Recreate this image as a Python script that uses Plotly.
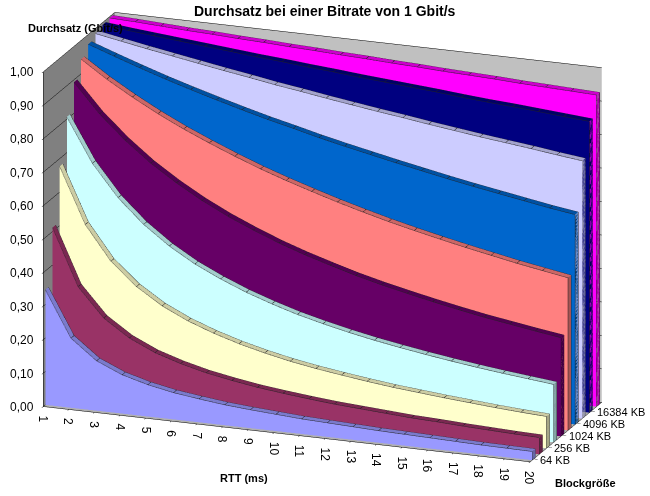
import plotly.graph_objects as go

# RTT in ms (x axis)
rtt = list(range(1, 21))

# block sizes (depth axis), front to back
block_sizes = ["64 KB", "128 KB", "256 KB", "512 KB", "1024 KB",
               "2048 KB", "4096 KB", "8192 KB", "16384 KB", "32768 KB"]

# throughput in Gbit/s
tp_64 = [0.344, 0.208, 0.149, 0.116, 0.095, 0.080, 0.070, 0.061, 0.055, 0.050,
         0.045, 0.042, 0.039, 0.036, 0.034, 0.032, 0.030, 0.028, 0.027, 0.026]
tp_128 = [0.512, 0.344, 0.259, 0.208, 0.173, 0.149, 0.130, 0.116, 0.104, 0.095,
          0.087, 0.080, 0.075, 0.070, 0.065, 0.062, 0.058, 0.055, 0.052, 0.050]
tp_256 = [0.677, 0.512, 0.411, 0.344, 0.295, 0.259, 0.231, 0.208, 0.189, 0.173,
          0.160, 0.149, 0.139, 0.130, 0.123, 0.116, 0.110, 0.104, 0.099, 0.095]
tp_512 = [0.807, 0.677, 0.583, 0.512, 0.456, 0.411, 0.375, 0.344, 0.318, 0.295,
          0.276, 0.259, 0.244, 0.231, 0.219, 0.208, 0.198, 0.189, 0.181, 0.173]
tp_1024 = [0.893, 0.807, 0.737, 0.677, 0.627, 0.583, 0.545, 0.512, 0.482, 0.456,
           0.433, 0.411, 0.392, 0.375, 0.359, 0.344, 0.330, 0.318, 0.306, 0.295]
tp_2048 = [0.944, 0.893, 0.848, 0.807, 0.770, 0.737, 0.706, 0.677, 0.651, 0.627,
           0.604, 0.583, 0.563, 0.545, 0.528, 0.512, 0.497, 0.482, 0.469, 0.456]
tp_4096 = [0.971, 0.944, 0.918, 0.893, 0.870, 0.848, 0.827, 0.807, 0.789, 0.770,
           0.753, 0.737, 0.721, 0.706, 0.691, 0.677, 0.664, 0.651, 0.638, 0.627]
tp_8192 = [0.985, 0.971, 0.957, 0.944, 0.931, 0.918, 0.906, 0.893, 0.882, 0.870,
           0.859, 0.848, 0.838, 0.827, 0.817, 0.807, 0.798, 0.789, 0.779, 0.770]
tp_16384 = [0.993, 0.985, 0.978, 0.971, 0.964, 0.957, 0.950, 0.944, 0.937, 0.931,
            0.924, 0.918, 0.912, 0.906, 0.899, 0.893, 0.888, 0.882, 0.876, 0.870]
tp_32768 = [0.996, 0.993, 0.989, 0.985, 0.982, 0.978, 0.975, 0.971, 0.968, 0.964,
            0.961, 0.957, 0.954, 0.950, 0.947, 0.944, 0.940, 0.937, 0.934, 0.931]

series = [tp_64, tp_128, tp_256, tp_512, tp_1024,
          tp_2048, tp_4096, tp_8192, tp_16384, tp_32768]

colors = ["#9999FF", "#993366", "#FFFFCC", "#CCFFFF", "#660066",
          "#FF8080", "#0066CC", "#CCCCFF", "#000080", "#FF00FF"]

z_ticks = [i / 10 for i in range(11)]
z_labels = [("%.2f" % t).replace(".", ",") for t in z_ticks]


def shade(hex_color, f):
    r, g, b = (int(hex_color[k:k + 2], 16) for k in (1, 3, 5))
    return "rgb(%d,%d,%d)" % (r * f, g * f, b * f)


flat = dict(ambient=1, diffuse=0, specular=0, roughness=1, fresnel=0)
half = 0.22  # half depth of each slab
y_front = -0.5

fig = go.Figure()
n = len(rtt)
for i, (vals, col) in enumerate(zip(series, colors)):
    y0, y1 = i - half, i + half
    # front face
    fig.add_trace(go.Surface(
        x=[rtt, rtt], y=[[y0] * n, [y0] * n], z=[[0] * n, vals],
        surfacecolor=[[0] * n, [0] * n], colorscale=[[0, col], [1, col]],
        cmin=0, cmax=1, showscale=False, lighting=flat, hoverinfo="skip"))
    # top strip
    fig.add_trace(go.Surface(
        x=[rtt, rtt], y=[[y0] * n, [y1] * n], z=[vals, vals],
        surfacecolor=[[0] * n, [0] * n],
        colorscale=[[0, shade(col, 0.8)], [1, shade(col, 0.8)]],
        cmin=0, cmax=1, showscale=False, lighting=flat, hoverinfo="skip",
        contours=dict(x=dict(show=True, start=1, end=20, size=1,
                             color="#202020", width=1))))
    # end cap at the last RTT
    fig.add_trace(go.Surface(
        x=[[rtt[-1], rtt[-1]], [rtt[-1], rtt[-1]]],
        y=[[y0, y1], [y0, y1]], z=[[0, 0], [vals[-1], vals[-1]]],
        surfacecolor=[[0, 0], [0, 0]],
        colorscale=[[0, shade(col, 0.65)], [1, shade(col, 0.65)]],
        cmin=0, cmax=1, showscale=False, lighting=flat, hoverinfo="skip"))
    # outlines
    ex = rtt + [rtt[-1], None] + rtt + [rtt[-1]]
    ey = [y0] * n + [y0, None] + [y1] * n + [y1]
    ez = vals + [0, None] + vals + [0]
    fig.add_trace(go.Scatter3d(x=ex, y=ey, z=ez, mode="lines",
                               line=dict(color="#202020", width=1),
                               hoverinfo="skip", showlegend=False))

tick_font = dict(family="Liberation Sans, Arial", size=12, color="black")
depth_font = dict(family="Liberation Sans, Arial", size=11, color="black")
common = dict(showspikes=False, zeroline=False, showline=True,
              linecolor="black", ticks="outside", tickcolor="black",
              ticklen=4, showticklabels=False, title=dict(text=""))

# tick labels as scene annotations so they stay upright
scene_notes = []
for t, lab in zip(z_ticks, z_labels):
    scene_notes.append(dict(x=rtt[0], y=y_front, z=t, text=lab,
                            showarrow=False, xanchor="right", xshift=-7,
                            font=tick_font))
for r in rtt:
    scene_notes.append(dict(x=r, y=y_front, z=0, text=str(r),
                            showarrow=False, textangle=90, yanchor="top",
                            yshift=-6, font=tick_font))
for k in range(0, len(block_sizes), 2):
    scene_notes.append(dict(x=rtt[-1], y=k, z=0, text=block_sizes[k],
                            showarrow=False, xanchor="left", xshift=5,
                            font=depth_font))


def label(text, px, py, size=11):
    return dict(text="<b>%s</b>" % text, x=px / 650, y=1 - py / 496,
                xref="paper", yref="paper", xanchor="center",
                yanchor="middle", showarrow=False, font=dict(size=size))


fig.update_layout(
    width=650, height=496,
    margin=dict(l=0, r=0, t=0, b=0),
    paper_bgcolor="white",
    showlegend=False,
    font=dict(family="Liberation Sans, Arial", size=11, color="black"),
    scene=dict(
        domain=dict(x=[0.0305, 0.9605], y=[0.047, 0.977]),
        aspectmode="manual",
        aspectratio=dict(x=2.252, y=0.895, z=1.526),
        camera=dict(eye=dict(x=0.62, y=-1.678, z=0.558),
                    center=dict(x=0, y=0, z=-0.02),
                    up=dict(x=0, y=0, z=1),
                    projection=dict(type="orthographic")),
        xaxis=dict(common, range=[1, 20], tickvals=rtt,
                   showgrid=False, showbackground=True,
                   backgroundcolor="#808080"),
        yaxis=dict(common, range=[y_front, 9.5], tickvals=[0, 2, 4, 6, 8],
                   showgrid=False, showbackground=True,
                   backgroundcolor="#C0C0C0"),
        zaxis=dict(common, range=[0, 1], tickvals=z_ticks,
                   showgrid=True, gridcolor="black",
                   gridwidth=1, showbackground=True,
                   backgroundcolor="#B0B0B0"),
        annotations=scene_notes,
    ),
    annotations=[
        label("Durchsatz bei einer Bitrate von 1 Gbit/s", 325, 11, 14),
        label("Durchsatz (Gbit/s)", 75, 28),
        label("RTT (ms)", 244, 478),
        label("Blockgröße", 585, 483),
    ],
)

# drop the page's default body margin so the figure sits at the window corner
fig.write_html("out.html", config={"displayModeBar": False},
               post_script="document.body.style.margin='0px';")
